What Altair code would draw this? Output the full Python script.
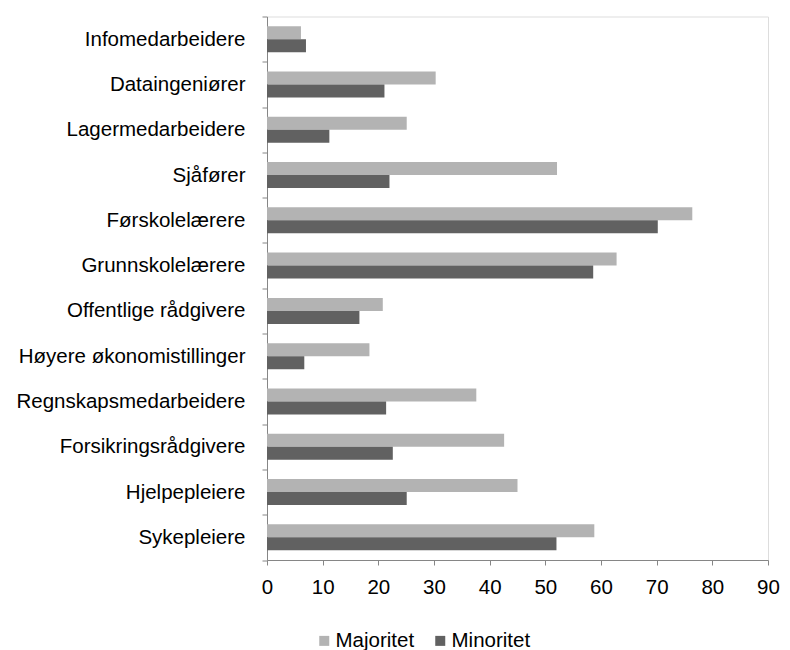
import altair as alt
import pandas as pd

categories = [
    "Infomedarbeidere", "Dataingeniører", "Lagermedarbeidere", "Sjåfører",
    "Førskolelærere", "Grunnskolelærere", "Offentlige rådgivere",
    "Høyere økonomistillinger", "Regnskapsmedarbeidere", "Forsikringsrådgivere",
    "Hjelpepleiere", "Sykepleiere",
]
majoritet = [6.1, 30.3, 25.1, 52.1, 76.4, 62.8, 20.8, 18.4, 37.6, 42.6, 45.0, 58.8]
minoritet = [7.0, 21.1, 11.2, 22.0, 70.2, 58.6, 16.6, 6.7, 21.4, 22.6, 25.1, 52.0]
series = ["Majoritet", "Minoritet"]
colors = ["#b3b3b3", "#616161"]
x_ticks = list(range(0, 91, 10))

rows = []
for c, a, b in zip(categories, majoritet, minoritet):
    rows.append({"kategori": c, "serie": series[0], "verdi": a})
    rows.append({"kategori": c, "serie": series[1], "verdi": b})
df = pd.DataFrame(rows)

FONT = "Liberation Sans"
AXIS_COLOR = "#868686"
FS = 20.5

chart = alt.Chart(df).mark_bar().encode(
    y=alt.Y(
        "kategori:N",
        sort=categories,
        scale=alt.Scale(paddingInner=0, paddingOuter=0),
        axis=alt.Axis(
            title=None,
            tickBand="extent",
            tickSize=5,
            tickColor=AXIS_COLOR,
            domainColor=AXIS_COLOR,
            labelFont=FONT,
            labelFontSize=FS,
            labelColor="#000000",
            labelPadding=17,
            labelLimit=400,
        ),
    ),
    yOffset=alt.YOffset(
        "serie:N",
        sort=series,
        scale=alt.Scale(paddingInner=0, paddingOuter=0.742),
    ),
    x=alt.X(
        "verdi:Q",
        scale=alt.Scale(domain=[0, 90], nice=False, zero=True),
        axis=alt.Axis(
            title=None,
            values=x_ticks,
            grid=False,
            tickSize=5,
            tickColor=AXIS_COLOR,
            domainColor=AXIS_COLOR,
            labelFont=FONT,
            labelFontSize=FS,
            labelColor="#000000",
            labelPadding=12,
            labelFlush=False,
        ),
    ),
    color=alt.Color(
        "serie:N",
        sort=series,
        scale=alt.Scale(domain=series, range=colors),
        legend=alt.Legend(
            title=None,
            orient="none",
            legendX=47,
            legendY=614,
            direction="horizontal",
            symbolType="square",
            symbolSize=100,
            symbolStrokeWidth=0,
            labelFont=FONT,
            labelFontSize=FS,
            labelColor="#000000",
            labelOffset=1,
            columnPadding=15,
            padding=0,
        ),
    ),
).properties(
    width=501,
    height=543.5,
    autosize=alt.AutoSizeParams(type="none"),
    padding={"left": 259, "top": 8.5, "right": 14, "bottom": 90},
).configure_view(
    stroke=None
).configure(
    background="white"
)

chart.save("out.html", embed_options={"renderer": "svg", "actions": False})
